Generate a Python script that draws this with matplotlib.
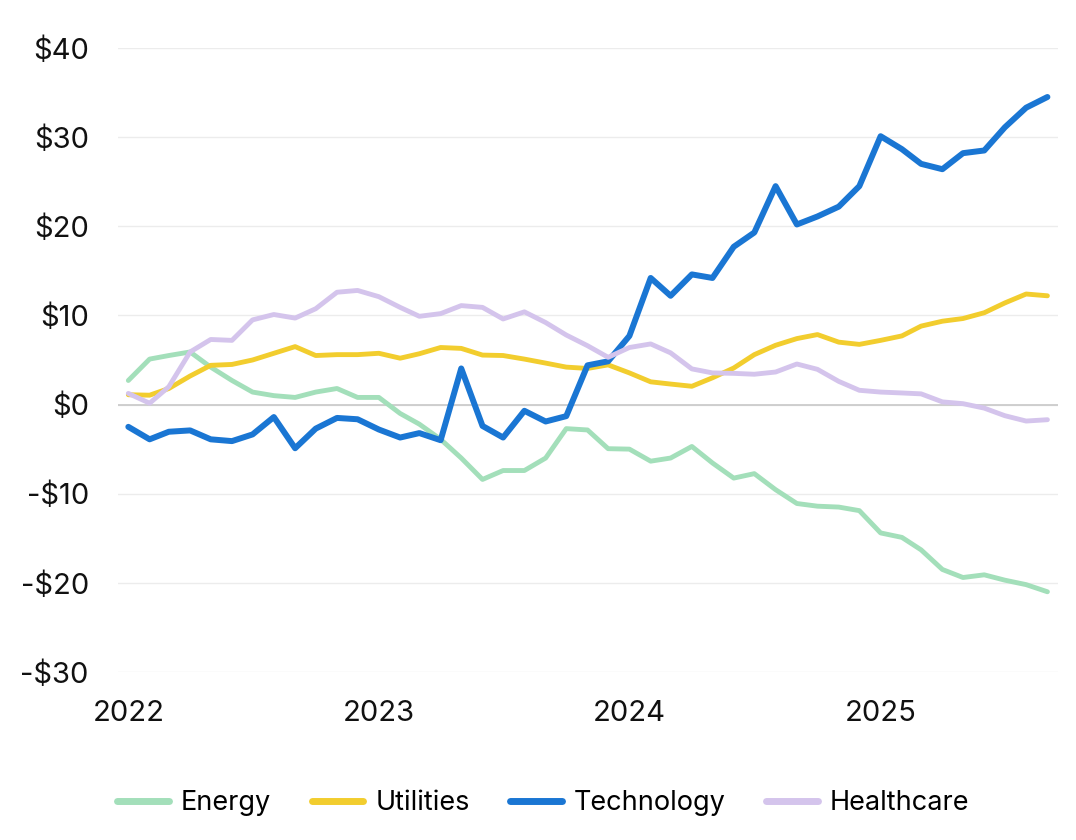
import matplotlib
matplotlib.use('Agg')
import matplotlib.pyplot as plt
import matplotlib.dates as mdates
import matplotlib.ticker as mticker
import numpy as np
import pandas as pd

plt.rcParams['font.family'] = ['Inter', 'DejaVu Sans']

months = pd.date_range('2022-01-01', periods=45, freq='MS')

energy = [2.7, 5.1, 5.5, 5.9, 4.2, 2.7, 1.4, 1.0, 0.8, 1.4, 1.8, 0.8, 0.8, -1.0,
          -2.2, -3.9, -6.0, -8.4, -7.4, -7.4, -6.0, -2.7, -2.85, -4.95, -5.0, -6.35,
          -6.0, -4.7, -6.55, -8.25, -7.75, -9.55, -11.1, -11.4, -11.5, -11.9, -14.4,
          -14.9, -16.3, -18.5, -19.4, -19.1, -19.7, -20.2, -21.0]
utilities = [1.1, 1.05, 1.8, 3.2, 4.4, 4.5, 5.0, 5.75, 6.5, 5.5, 5.6, 5.6, 5.75, 5.2,
             5.7, 6.4, 6.3, 5.55, 5.5, 5.1, 4.65, 4.2, 4.05, 4.45, 3.55, 2.55, 2.3,
             2.05, 3.0, 4.1, 5.6, 6.65, 7.4, 7.85, 7.0, 6.75, 7.2, 7.7, 8.8, 9.35,
             9.65, 10.3, 11.4, 12.4, 12.2]
technology = [-2.5, -3.9, -3.05, -2.9, -3.9, -4.1, -3.35, -1.4, -4.9, -2.7, -1.5, -1.65,
              -2.8, -3.7, -3.2, -4.0, 4.05, -2.4, -3.7, -0.7, -1.9, -1.3, 4.4, 4.85,
              7.7, 14.2, 12.2, 14.6, 14.2, 17.7, 19.3, 24.5, 20.2, 21.1, 22.2, 24.5,
              30.1, 28.65, 27.0, 26.4, 28.2, 28.5, 31.1, 33.3, 34.5]
healthcare = [1.25, 0.15, 2.0, 5.9, 7.3, 7.2, 9.5, 10.1, 9.7, 10.75, 12.6, 12.8, 12.1,
              10.9, 9.9, 10.2, 11.1, 10.9, 9.6, 10.4, 9.2, 7.8, 6.6, 5.3, 6.4, 6.8,
              5.8, 4.0, 3.55, 3.5, 3.4, 3.65, 4.55, 3.95, 2.6, 1.6, 1.4, 1.3, 1.2, 0.3,
              0.1, -0.4, -1.25, -1.85, -1.7]

series = [
    ('Energy', energy, '#a3dfba', 3.5),
    ('Utilities', utilities, '#f2cd2e', 3.5),
    ('Technology', technology, '#1a76d3', 4.3),
    ('Healthcare', healthcare, '#d4c4ec', 3.5),
]

fig = plt.figure(figsize=(10.76, 8.4), dpi=100)
ax = fig.add_axes([0.1097, 0.2, 0.8733, 0.7429])

for name, vals, color, lw in series:
    ax.plot(months, vals, color=color, linewidth=lw, label=name,
            solid_capstyle='round', solid_joinstyle='round')

ax.set_ylim(-30, 40)
ax.set_yticks(np.arange(-30, 41, 10))
ax.yaxis.set_major_formatter(mticker.FuncFormatter(
    lambda v, p: f'${v:.0f}' if v >= 0 else f'-${-v:.0f}'))
ax.set_xlim(months[0] - pd.Timedelta(days=15), months[-1] + pd.Timedelta(days=15))
ax.xaxis.set_major_locator(mdates.YearLocator())
ax.xaxis.set_major_formatter(mdates.DateFormatter('%Y'))

ax.grid(axis='y', color='#ececec', linewidth=1)
ax.axhline(0, color='#c8c8c8', linewidth=1.2, zorder=1)
ax.set_axisbelow(True)
for s in ax.spines.values():
    s.set_visible(False)
ax.tick_params(length=0, labelsize=21, colors='#111111')
ax.tick_params(axis='y', pad=21)
ax.tick_params(axis='x', pad=20)

leg = fig.legend(loc='center', bbox_to_anchor=(0.505, 0.044), ncol=4, frameon=False,
                 fontsize=19.5, handlelength=1.9, columnspacing=1.5, handletextpad=0.45)
for h in leg.get_lines():
    h.set_linewidth(5)
    h.set_solid_capstyle('round')

fig.savefig('out.png', dpi=100)
